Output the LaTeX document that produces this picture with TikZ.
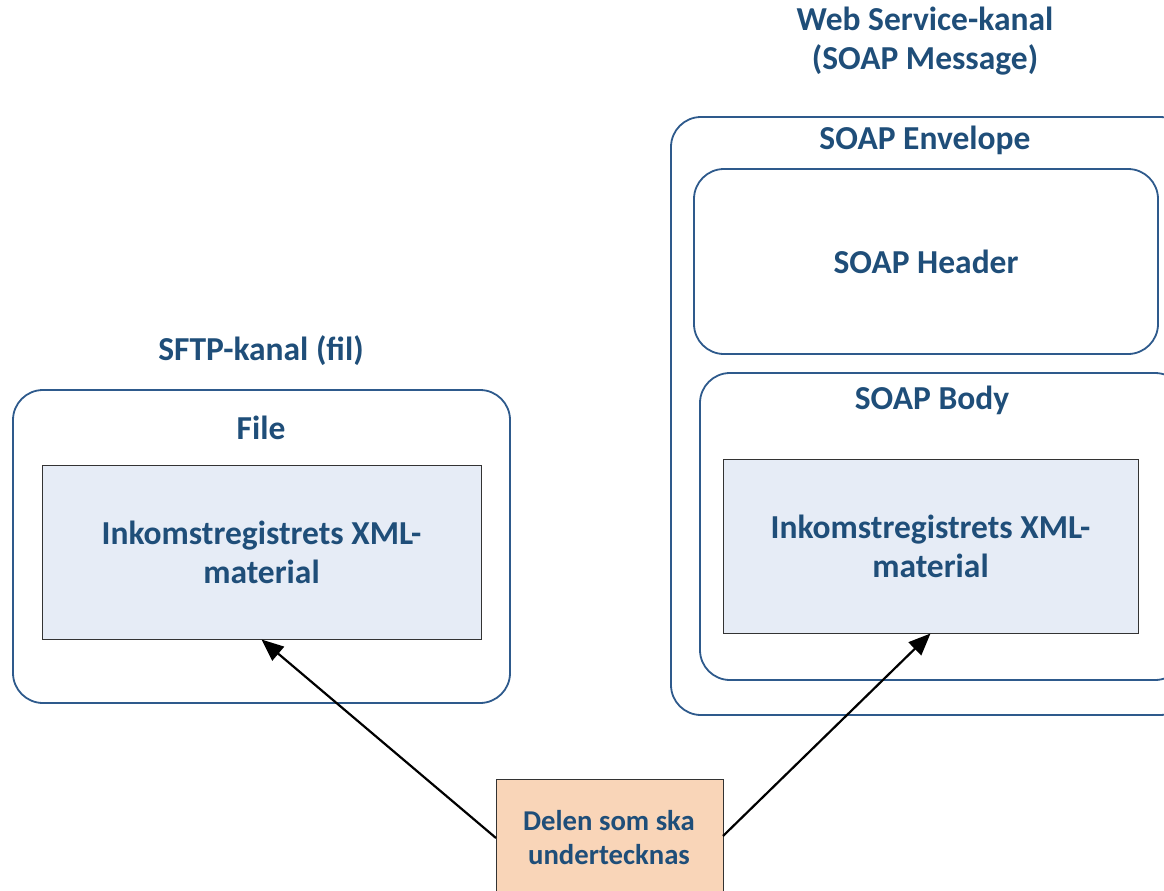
\documentclass[tikz,border=0pt]{standalone}
\usepackage{fontspec}
\setmainfont{Carlito}
\usetikzlibrary{arrows.meta}
\definecolor{txt}{HTML}{1F4E79}
\definecolor{bord}{HTML}{2E5A8C}
\definecolor{inner}{HTML}{E6ECF6}
\definecolor{orng}{HTML}{F9D5B8}
\tikzset{
  lbl/.style={text=txt, font=\bfseries\fontsize{33.5}{39}\selectfont, align=center, inner sep=0pt},
  rbox/.style={draw=bord, line width=1.8pt, rounded corners=30pt},
  xmlbox/.style={draw=black!80, line width=1pt, fill=inner},
  arr/.style={-{Triangle[length=22pt,width=18pt]}, line width=2.2pt, black}
}
\begin{document}
\begin{tikzpicture}[x=1pt,y=-1pt]
\useasboundingbox (0,0) rectangle (1164,891);
% left
\node[lbl] (sftp) at (261,351) {SFTP-kanal (fil)};
\draw[rbox] (13,390) rectangle (510,703);
\node[lbl] (file) at (261,428) {File};
\node[xmlbox, minimum width=439pt, minimum height=174pt] (xmlL) at (261.5,552) {};
\node[lbl] at (xmlL) {Inkomstregistrets XML-\\material};
% right
\node[lbl] (ws) at (925,41) {Web Service-kanal\\(SOAP Message)};
\draw[rbox] (671,117) rectangle (1190,715);
\node[lbl] (env) at (925,140) {SOAP Envelope};
\draw[rbox] (694,169) rectangle (1158,354);
\node[lbl] (hdr) at (926,262) {SOAP Header};
\draw[rbox] (700,373) rectangle (1185,680);
\node[lbl] (body) at (932,400) {SOAP Body};
\node[xmlbox, minimum width=415pt, minimum height=174pt] (xmlR) at (930.5,546) {};
\node[lbl] at (xmlR) {Inkomstregistrets XML-\\material};
% bottom
\node[draw=black!80, line width=1pt, fill=orng, minimum width=227pt, minimum height=140pt, anchor=north west] (del) at (496,779) {};
\node[lbl, font=\bfseries\fontsize{28.7}{34}\selectfont] (deltxt) at (609,838) {Delen som ska\\undertecknas};
\coordinate (aL) at (496,838);
\coordinate (aR) at (723,836);
\draw[arr] (aL) -- (xmlL.south);
\draw[arr] (aR) -- (xmlR.south);
\end{tikzpicture}
\end{document}
